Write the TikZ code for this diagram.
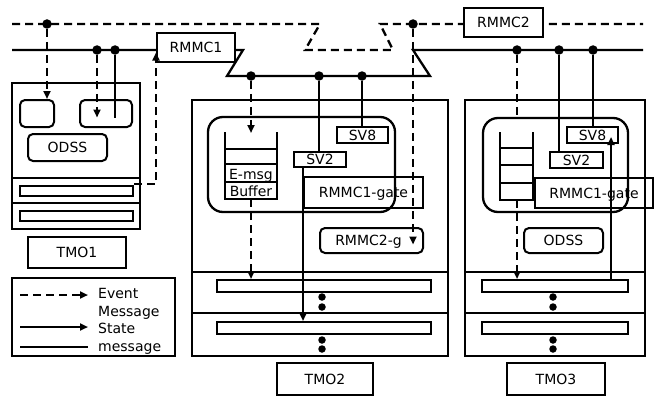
\documentclass[tikz,border=0pt]{standalone}
\usepackage{fontspec}
\setmainfont{DejaVu Sans}
\usetikzlibrary{arrows.meta}
\begin{document}
\begin{tikzpicture}[x=1pt,y=-1pt,
  font=\fontsize{14}{16}\selectfont,
  ln/.style={line width=2.3pt},
  thinln/.style={line width=1.4pt},
  dsh/.style={line width=2.3pt, dash pattern=on 8pt off 5pt},
  arr/.style={-{Triangle[length=8pt,width=7pt]}},
  box/.style={draw, line width=2pt, inner sep=0pt, text height=10pt, text depth=0pt},
  rbox/.style={box, rounded corners=5pt},
  bigr/.style={draw, line width=2.3pt, rounded corners=15pt, inner sep=0pt},
  lbl/.style={inner sep=0pt, text height=10pt, text depth=0pt},
  dot/.style={circle, fill, inner sep=0pt, minimum size=9.5pt},
  sdot/.style={circle, fill, inner sep=0pt, minimum size=7.5pt}
]
\useasboundingbox (0,0) rectangle (668,396);

% ---- top message lines
\draw[dsh] (12,24) -- (320,24) -- (305,50) -- (393,50) -- (380,24) -- (643,24);
\draw[ln] (12,50) -- (243,50) -- (227,76) -- (430,76) -- (413,50) -- (643,50);
\node[box, fill=white, minimum width=78, minimum height=29] (rm1) at (196,47.5) {RMMC1};
\node[box, fill=white, minimum width=79, minimum height=29] (rm2) at (503.5,22.5) {RMMC2};

% ---- dots
\node[dot] (d1) at (47,24) {};
\node[dot] (d2) at (97,50) {};
\node[dot] (d3) at (115,50) {};
\node[dot] (d4) at (413,24) {};
\node[dot] (d5) at (251,76) {};
\node[dot] (d6) at (319,76) {};
\node[dot] (d7) at (362,76) {};
\node[dot] (d8) at (517,50) {};
\node[dot] (d9) at (559,50) {};
\node[dot] (d10) at (593,50) {};

% ---- TMO1
\node[box, minimum width=128, minimum height=146] (tmo1) at (76,156) {};
\draw[ln] (12,178) -- (140,178);
\draw[ln] (12,203) -- (140,203);
\node[rbox, minimum width=34, minimum height=27] (sa) at (37,113.5) {};
\node[rbox, minimum width=52, minimum height=27] (sb) at (106,113.5) {};
\node[rbox, minimum width=79, minimum height=27] (odss1) at (67.5,147.5) {ODSS};
\node[box, minimum width=113, minimum height=8] (bar1a) at (76.5,191) {};
\node[box, minimum width=113, minimum height=9] (bar1b) at (76.5,215.5) {};
\node[box, minimum width=98, minimum height=31] (lab1) at (77,252.5) {TMO1};
\draw[dsh,arr] (d1) -- (d1 |- sa.north);
\draw[dsh,arr] (d2) -- ([yshift=-4pt]d2 |- sb.center);
\draw[ln] (d3) -- ([yshift=-4pt]d3 |- sb.center);
\draw[dsh,arr] ([yshift=1pt]bar1a.north east) -| ([yshift=-5pt]rm1.west);

% ---- TMO2
\node[box, minimum width=256, minimum height=256] (tmo2) at (320,228) {};
\draw[ln] (192,272) -- (448,272);
\draw[ln] (192,313) -- (448,313);
\node[bigr, minimum width=187, minimum height=95] (in2) at (301.5,164.5) {};
\draw[ln] (225,132) -- (225,199) -- (277,199) -- (277,132);
\draw[thinln] (225,149) -- (277,149);
\draw[ln] (225,164) -- (277,164);
\draw[ln] (225,182) -- (277,182);
\node[lbl] (em) at (251,174) {E-msg};
\node[lbl] (bf) at (251,191.5) {Buffer};
\coordinate (st2) at (251,133);
\coordinate (sb2) at (251,199);
\node[box, minimum width=52, minimum height=15] (sv2a) at (320,159.5) {SV2};
\node[box, minimum width=51, minimum height=16] (sv8a) at (362.5,135) {SV8};
\node[box, minimum width=119, minimum height=31] (gate2) at (363.5,192.5) {RMMC1-gate};
\node[rbox, minimum width=103, minimum height=25] (rm2g) at (371.5,240.5) {\hspace*{-6pt}RMMC2-g};
\node[box, minimum width=214, minimum height=12] (bar2a) at (324,286) {};
\node[box, minimum width=214, minimum height=12] (bar2b) at (324,328) {};
\node[sdot] at (322,297) {};
\node[sdot] at (322,307) {};
\node[sdot] at (322,340) {};
\node[sdot] at (322,349) {};
\node[box, minimum width=96, minimum height=32] (lab2) at (325,379) {TMO2};
\draw[dsh,arr] (d5) -- (st2);
\draw[dsh,arr] (sb2) -- (sb2 |- bar2a.north);
\draw[ln] (d6) -- (d6 |- sv2a.north);
\draw[ln,arr] (gate2.west |- sv2a.south) -- (gate2.west |- bar2b.north);
\draw[ln] (d7) -- (d7 |- sv8a.north);
\draw[dsh,arr] (d4) -- ([yshift=-4pt]d4 |- rm2g.center);

% ---- TMO3
\node[box, minimum width=180, minimum height=256] (tmo3) at (555,228) {};
\draw[ln] (465,272) -- (645,272);
\draw[ln] (465,313) -- (645,313);
\node[bigr, minimum width=145, minimum height=94] (in3) at (555.5,165) {};
\draw[ln] (500,132) -- (500,200) -- (533,200) -- (533,132);
\draw[ln] (500,148) -- (533,148);
\draw[ln] (500,165) -- (533,165);
\draw[ln] (500,183) -- (533,183);
\coordinate (sb3) at (517,200);
\node[box, minimum width=53, minimum height=16] (sv2b) at (576.5,160) {SV2};
\node[box, minimum width=51, minimum height=16] (sv8b) at (592.5,135) {SV8};
\node[box, minimum width=118, minimum height=30] (gate3) at (594,193) {RMMC1-gate};
\node[rbox, minimum width=79, minimum height=25] (odss3) at (563.5,240.5) {ODSS};
\node[box, minimum width=146, minimum height=12] (bar3a) at (555,286) {};
\node[box, minimum width=146, minimum height=12] (bar3b) at (555,328) {};
\node[sdot] at (553,297) {};
\node[sdot] at (553,307) {};
\node[sdot] at (553,340) {};
\node[sdot] at (553,349) {};
\node[box, minimum width=98, minimum height=32] (lab3) at (556,379) {TMO3};
\coordinate (s3) at (611,280);
\draw[dsh] (d8) -- (d8 |- in3.north);
\draw[dsh,arr] (sb3) -- (sb3 |- bar3a.north);
\draw[ln] (d9) -- (d9 |- sv2b.north);
\draw[ln] (d10) -- (d10 |- sv8b.north);
\draw[ln,arr] (s3) -- ([yshift=-2pt]s3 |- sv8b.center);

% ---- legend
\node[box, line width=2.8pt, minimum width=163, minimum height=78] (leg) at (93.5,317) {};
\coordinate (l1a) at (20,295); \coordinate (l1b) at (88,295);
\coordinate (l2a) at (20,327); \coordinate (l2b) at (88,327);
\coordinate (l3a) at (20,347); \coordinate (l3b) at (88,347);
\draw[dsh,arr] (l1a) -- (l1b);
\draw[ln,arr] (l2a) -- (l2b);
\draw[ln] (l3a) -- (l3b);
\node[lbl, anchor=west] (t1) at (98,293) {Event};
\node[lbl, anchor=west] (t2) at (98,311) {Message};
\node[lbl, anchor=west] (t3) at (98,328.5) {State};
\node[lbl, anchor=west] (t4) at (98,346) {message};
\end{tikzpicture}
\end{document}
